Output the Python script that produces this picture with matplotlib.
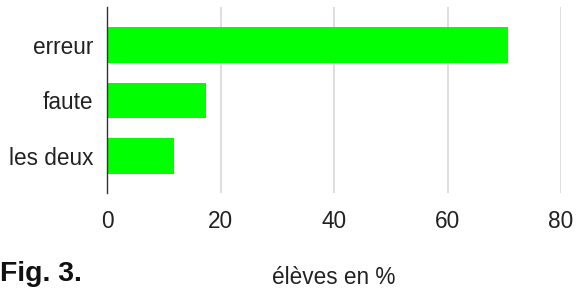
import matplotlib
matplotlib.use("Agg")
import matplotlib.pyplot as plt

plt.rcParams['font.family'] = ['Liberation Sans', 'DejaVu Sans']

# data
categories = ["erreur", "faute", "les deux"]
values = [70.6, 17.5, 11.8]
xticks = [0, 20, 40, 60, 80]

fig = plt.figure(figsize=(5.76, 2.91), dpi=100)
ax = fig.add_axes([107/576, 1-193/291, (561-107)/576, 186/291])

pos = list(range(len(categories)))
ax.barh(pos, values, height=0.64, color="#00ff00", zorder=3)
ax.set_yticks(pos)
ax.set_yticklabels(categories, fontsize=16.3, color="#222222")
ax.set_ylim(2.67, -0.68)

ax.set_xlim(0, 80)
ax.set_xticks(xticks)
ax.set_xticklabels([str(t) for t in xticks], fontsize=16.3, color="#222222")
ax.xaxis.grid(True, color="#d6d6d6", linewidth=1.1, zorder=0)
ax.tick_params(axis='both', length=0)
ax.tick_params(axis='x', pad=12)
ax.tick_params(axis='y', pad=10)

for s in ["top", "right", "bottom"]:
    ax.spines[s].set_visible(False)
ax.spines["left"].set_color("#333333")
ax.spines["left"].set_linewidth(1.0)
ax.spines["left"].set_zorder(4)

fig.text(334/576, 1-284/291, "élèves en %", fontsize=16.3, ha="center", va="baseline", color="#222222")
fig.text(0.0, 1-281/291, "Fig. 3.", fontsize=20.4, fontweight="bold", ha="left", va="baseline", color="#111111")

fig.savefig("out.png", dpi=100)
